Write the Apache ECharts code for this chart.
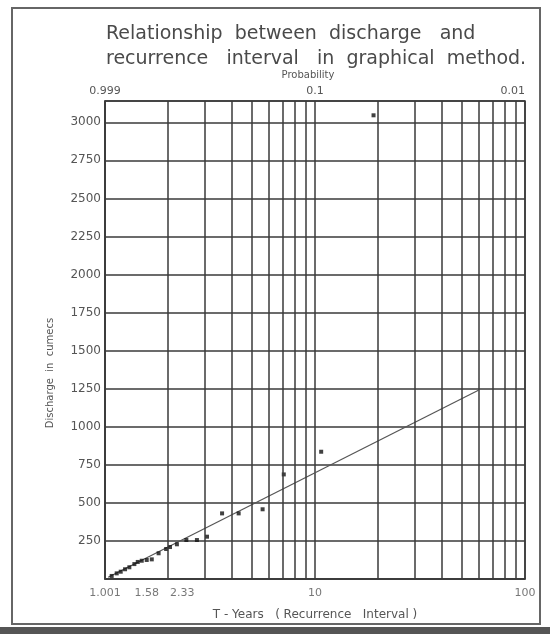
<!DOCTYPE html>
<html>
<head>
<meta charset="utf-8">
<script src="https://cdn.jsdelivr.net/npm/echarts@6/dist/echarts.min.js"></script>
<style>
  html, body { margin: 0; padding: 0; background: #fff; }
  #chart { width: 550px; height: 634px; }
</style>
</head>
<body>
<div id="chart"></div>
<script>
// ---- data ----
const returnPeriods = [1.076, 1.137, 1.188, 1.246, 1.306, 1.38, 1.432, 1.496, 1.58, 1.67, 1.80, 1.955, 2.04, 2.20, 2.44, 2.74, 3.06, 3.61, 4.33, 5.63, 7.10, 10.7, 19.0];
const discharges    = [20, 37, 48, 64, 77, 98, 112, 120, 125, 129, 169, 197, 210, 228, 256, 256, 278, 431, 431, 458, 687, 836, 3046];
const fitT = [1.035, 60];
const fitQ = [12, 1240];
const minorGridT = [2, 3, 4, 5, 6, 7, 8, 9, 20, 30, 40, 50, 60, 70, 80, 90];
const bottomTickT = [1.001, 1.58, 2.33, 10, 100];
const bottomTickLabels = ['1.001', '1.58', '2.33', '10', '100'];
const topTickT = [1, 10, 100];
const topTickLabels = ['0.999', '0.1', '0.01'];
const yMin = 0, yMax = 3140, yStep = 250;

const titleText = 'Relationship  between  discharge   and\nrecurrence   interval   in  graphical  method.';
const xName = 'T - Years   ( Recurrence   Interval )';
const yName = 'Discharge  in  cumecs';
const topName = 'Probability';

const FONT = 'DejaVu Sans';
const GRID = '#3a3a3a';
const TXT = '#555';

const chart = echarts.init(document.getElementById('chart'), null, { renderer: 'canvas' });

const option = {
  animation: false,
  backgroundColor: '#fff',
  title: {
    text: titleText,
    left: 101, top: 17,
    textStyle: { fontFamily: FONT, fontSize: 19, fontWeight: 'normal', color: '#4a4a4a', lineHeight: 25 }
  },
  graphic: [
    { type: 'rect', shape: { x: 12, y: 8, width: 528, height: 616 }, style: { fill: 'none', stroke: '#666', lineWidth: 2 }, z: -1 },
    { type: 'rect', shape: { x: 0, y: 627, width: 550, height: 7 }, style: { fill: '#555' }, z: -1 }
  ],
  grid: { left: 105, right: 25, top: 101, bottom: 55, show: true, borderColor: GRID, borderWidth: 1.5 },
  xAxis: [
    {
      type: 'log', logBase: 10, min: 1, max: 100, position: 'bottom',
      axisLine: { show: true, lineStyle: { color: GRID, width: 1.5 } },
      axisTick: { show: false },
      axisLabel: { show: false },
      splitLine: { show: true, lineStyle: { color: GRID, width: 1.5 } },
      name: xName, nameLocation: 'middle', nameGap: 30,
      nameTextStyle: { fontFamily: FONT, fontSize: 12, color: TXT }
    },
    {
      type: 'log', logBase: 10, min: 1, max: 100, position: 'top',
      axisLine: { show: false }, axisTick: { show: false }, splitLine: { show: false },
      axisLabel: {
        margin: 4, fontFamily: FONT, fontSize: 11, color: TXT,
        alignMinLabel: 'center', alignMaxLabel: 'right',
        formatter: function (v) { const i = topTickT.indexOf(Math.round(v)); return i >= 0 ? topTickLabels[i] : ''; }
      },
      name: topName, nameLocation: 'middle', nameGap: 21,
      nameTextStyle: { fontFamily: FONT, fontSize: 10, color: TXT, padding: [0, 14, 0, 0] }
    }
  ],
  yAxis: {
    type: 'value', min: yMin, max: yMax, interval: yStep,
    axisLine: { show: true, lineStyle: { color: GRID, width: 1.5 } },
    axisTick: { show: false },
    splitLine: { show: true, lineStyle: { color: GRID, width: 1.5 } },
    axisLabel: {
      margin: 4, fontFamily: FONT, fontSize: 12, color: TXT,
      formatter: function (v) { return (v > 0 && v % yStep === 0) ? String(v) : ''; }
    },
    name: yName, nameLocation: 'middle', nameGap: 50, nameRotate: 90,
    nameTextStyle: { fontFamily: FONT, fontSize: 10, color: TXT, padding: [0, 66, 0, 0] }
  },
  series: [
    {
      type: 'line', xAxisIndex: 0,
      data: fitT.map((t, i) => [t, fitQ[i]]),
      showSymbol: false, symbol: 'none',
      lineStyle: { color: '#555', width: 1.2 },
      markLine: {
        silent: true, symbol: 'none', label: { show: false },
        lineStyle: { color: GRID, width: 1.5, type: 'solid' },
        data: minorGridT.map(t => ({ xAxis: t }))
      },
      z: 3
    },
    {
      type: 'scatter', xAxisIndex: 0,
      data: returnPeriods.map((t, i) => [t, discharges[i]]),
      symbol: 'rect', symbolSize: 4,
      itemStyle: { color: '#111' },
      z: 4
    },
    {
      type: 'scatter', xAxisIndex: 0,
      data: bottomTickT.map((t, i) => ({ value: [t, yMin], label: { formatter: bottomTickLabels[i] } })),
      symbolSize: 0, silent: true, clip: false,
      label: { show: true, position: 'bottom', distance: 9, fontFamily: FONT, fontSize: 11, color: TXT }
    }
  ]
};
chart.setOption(option);
</script>
</body>
</html>
